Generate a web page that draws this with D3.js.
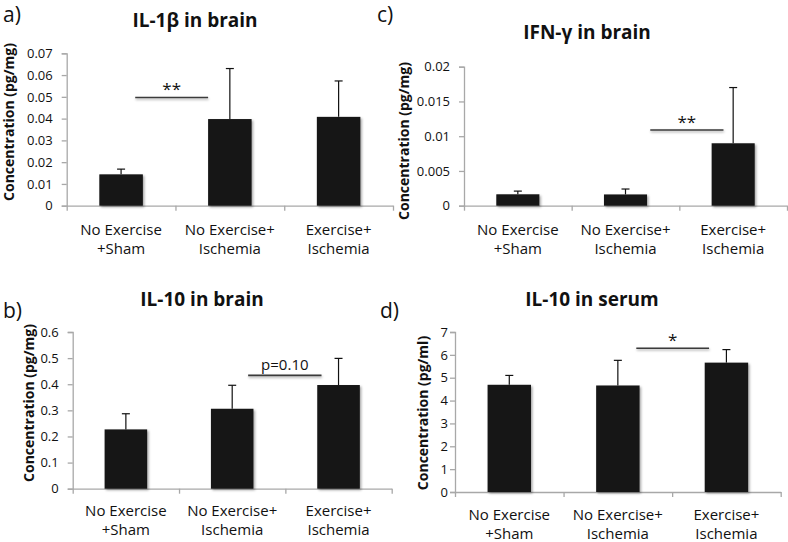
<!DOCTYPE html>
<html>
<head>
<meta charset="utf-8">
<script src="https://cdn.jsdelivr.net/npm/d3@7/dist/d3.min.js"></script>
<style>
  html, body { margin: 0; padding: 0; background: #fff; }
  svg { display: block; }
  text { font-family: "Open Sans", "Liberation Sans", sans-serif; fill: #111; }
</style>
</head>
<body>
<svg id="chart" width="788" height="542"></svg>
<script>
// ---------- data ----------
const categories = [["No Exercise", "+Sham"], ["No Exercise+", "Ischemia"], ["Exercise+", "Ischemia"]];

const il1bMeans = [0.0144, 0.0398, 0.0408];
const il1bErr   = [0.0024, 0.0232, 0.0165];
const il1bTicks = [0, 0.01, 0.02, 0.03, 0.04, 0.05, 0.06, 0.07];
const il1bTickLabels = ["0", "0.01", "0.02", "0.03", "0.04", "0.05", "0.06", "0.07"];

const ifngMeans = [0.00164, 0.00162, 0.00898];
const ifngErr   = [0.00046, 0.00078, 0.00802];
const ifngTicks = [0, 0.005, 0.01, 0.015, 0.02];
const ifngTickLabels = ["0", "0.005", "0.01", "0.015", "0.02"];

const il10bMeans = [0.227, 0.306, 0.397];
const il10bErr   = [0.060, 0.090, 0.102];
const il10bTicks = [0, 0.1, 0.2, 0.3, 0.4, 0.5, 0.6];
const il10bTickLabels = ["0", "0.1", "0.2", "0.3", "0.4", "0.5", "0.6"];

const il10sMeans = [4.69, 4.66, 5.66];
const il10sErr   = [0.41, 1.10, 0.57];
const il10sTicks = [0, 1, 2, 3, 4, 5, 6, 7];
const il10sTickLabels = ["0", "1", "2", "3", "4", "5", "6", "7"];

// significance bars: from/to in category units (0..3), y in data units
const il1bSig  = { from: 0.63, to: 1.30, y: 0.0497, label: "**" };
const ifngSig  = { from: 1.73, to: 2.41, y: 0.0109, label: "**" };
const il10bSig = { from: 1.65, to: 2.34, y: 0.434, label: "p=0.10" };
const il10sSig = { from: 1.67, to: 2.34, y: 6.29, label: "*" };

// ---------- layout ----------
const panels = [
  { letter: "a)", lx: 3, ly: 22, title: "IL-1β in brain", tx: 195, ty: 27,
    ylabel: "Concentration (pg/mg)", ylx: 14, yly: 122,
    left: 66.7, right: 393, top: 53.3, bottom: 205.7, tickPad: 9, catOff: 29,
    means: il1bMeans, err: il1bErr, ticks: il1bTicks, tickLabels: il1bTickLabels, max: 0.07, sig: il1bSig },
  { letter: "c)", lx: 377, ly: 22, title: "IFN-γ in brain", tx: 587, ty: 39,
    ylabel: "Concentration (pg/mg)", ylx: 409, yly: 141,
    left: 464, right: 787, top: 66.7, bottom: 205.7, tickPad: 9, catOff: 29,
    means: ifngMeans, err: ifngErr, ticks: ifngTicks, tickLabels: ifngTickLabels, max: 0.02, sig: ifngSig },
  { letter: "b)", lx: 3, ly: 318, title: "IL-10 in brain", tx: 202, ty: 306,
    ylabel: "Concentration (pg/mg)", ylx: 33.5, yly: 403,
    left: 72.7, right: 391.7, top: 332, bottom: 488.7, tickPad: 9, catOff: 27,
    means: il10bMeans, err: il10bErr, ticks: il10bTicks, tickLabels: il10bTickLabels, max: 0.6, sig: il10bSig },
  { letter: "d)", lx: 380, ly: 318, title: "IL-10 in serum", tx: 592, ty: 306,
    ylabel: "Concentration (pg/ml)", ylx: 427.5, yly: 413,
    left: 455, right: 780.7, top: 332, bottom: 492, tickPad: 2, catOff: 28,
    means: il10sMeans, err: il10sErr, ticks: il10sTicks, tickLabels: il10sTickLabels, max: 7, sig: il10sSig }
];

const svg = d3.select("#chart");
const defs = svg.append("defs");
const f = defs.append("filter").attr("id", "shadow").attr("x", "-10%").attr("y", "-10%").attr("width", "130%").attr("height", "140%");
f.append("feDropShadow").attr("dx", 1.5).attr("dy", 1.5).attr("stdDeviation", 1.2)
  .attr("flood-color", "#000").attr("flood-opacity", 0.35);
const f2 = defs.append("filter").attr("id", "lineShadow").attr("filterUnits", "userSpaceOnUse")
  .attr("x", 0).attr("y", 0).attr("width", 788).attr("height", 542);
f2.append("feDropShadow").attr("dx", 0.5).attr("dy", 1.5).attr("stdDeviation", 1)
  .attr("flood-color", "#000").attr("flood-opacity", 0.35);

panels.forEach(p => {
  const g = svg.append("g");

  const x = d3.scaleBand().domain(d3.range(categories.length)).range([p.left, p.right]).paddingInner(0.6).paddingOuter(0.3);
  const xu = d3.scaleLinear().domain([0, categories.length]).range([p.left, p.right]);
  const y = d3.scaleLinear().domain([0, p.max]).range([p.bottom, p.top]);

  // panel letter and title
  g.append("text").attr("x", p.lx).attr("y", p.ly).attr("font-size", 21).text(p.letter);
  g.append("text").attr("x", p.tx).attr("y", p.ty).attr("text-anchor", "middle")
    .attr("font-size", 19).attr("font-weight", "bold").text(p.title);

  // y label
  g.append("text").attr("transform", `translate(${p.ylx},${p.yly}) rotate(-90)`)
    .attr("text-anchor", "middle").attr("font-size", 14).attr("font-weight", "bold").text(p.ylabel);

  // y axis
  const yAxis = d3.axisLeft(y).tickValues(p.ticks).tickSize(5).tickPadding(p.tickPad)
    .tickFormat((d, i) => p.tickLabels[i]);
  const ya = g.append("g").attr("transform", `translate(${p.left},0)`).call(yAxis);
  ya.select(".domain").attr("stroke", "#a8a8a8").attr("stroke-width", 1.3);
  ya.selectAll(".tick line").attr("stroke", "#a8a8a8").attr("stroke-width", 1.3);
  ya.selectAll(".tick text").attr("font-size", 13).attr("fill", "#111")
    .attr("font-family", "'Open Sans', sans-serif");

  // x axis: line with ticks at category boundaries
  const xAxis = d3.axisBottom(xu).tickValues(d3.range(categories.length + 1)).tickSize(5).tickSizeOuter(0).tickFormat("");
  const xa = g.append("g").attr("transform", `translate(0,${p.bottom})`).call(xAxis);
  xa.select(".domain").attr("stroke", "#a8a8a8").attr("stroke-width", 1.3);
  xa.selectAll(".tick line").attr("stroke", "#a8a8a8").attr("stroke-width", 1.3);

  // category labels
  categories.forEach((c, i) => {
    const t = g.append("text").attr("text-anchor", "middle").attr("font-size", 15)
      .attr("x", x(i) + x.bandwidth() / 2).attr("y", p.bottom + p.catOff);
    c.forEach((line, j) => {
      t.append("tspan").attr("x", x(i) + x.bandwidth() / 2).attr("dy", j === 0 ? 0 : 19).text(line);
    });
  });

  // error bars (drawn under bars)
  const eb = g.append("g").attr("stroke", "#111").attr("stroke-width", 1.2);
  p.means.forEach((m, i) => {
    const cx = x(i) + x.bandwidth() / 2;
    eb.append("line").attr("x1", cx).attr("x2", cx).attr("y1", y(m)).attr("y2", y(m + p.err[i]));
    eb.append("line").attr("x1", cx - 4).attr("x2", cx + 4).attr("y1", y(m + p.err[i])).attr("y2", y(m + p.err[i]));
  });

  // bars
  g.append("g").selectAll("rect").data(p.means).join("rect")
    .attr("x", (d, i) => x(i)).attr("width", x.bandwidth())
    .attr("y", d => y(d)).attr("height", d => p.bottom - y(d))
    .attr("fill", "#141414").attr("filter", "url(#shadow)");

  // significance
  const s = p.sig;
  g.append("line").attr("x1", xu(s.from)).attr("x2", xu(s.to)).attr("y1", y(s.y)).attr("y2", y(s.y))
    .attr("stroke", "#3a3a3a").attr("stroke-width", 1.6).attr("filter", "url(#lineShadow)");
  const isStar = s.label.indexOf("*") === 0;
  g.append("text").attr("x", (xu(s.from) + xu(s.to)) / 2).attr("y", y(s.y) - (isStar ? 2 : 5))
    .attr("text-anchor", "middle").attr("font-size", isStar ? 17 : 15)
    .attr("font-family", isStar ? "'DejaVu Sans', sans-serif" : "'Open Sans', sans-serif")
    .text(s.label);
});
</script>
</body>
</html>
